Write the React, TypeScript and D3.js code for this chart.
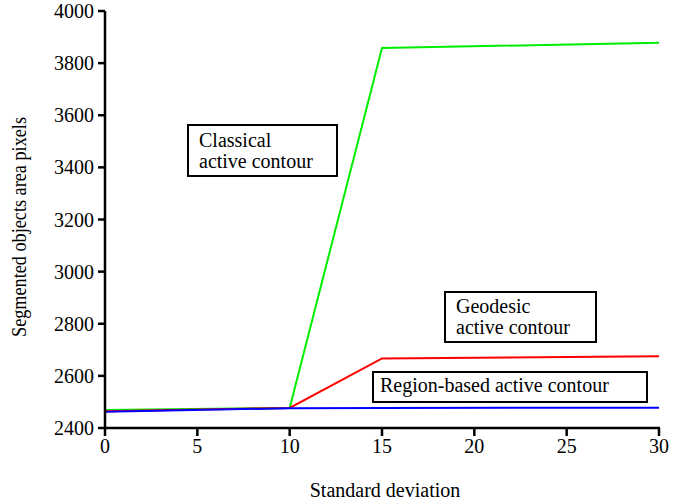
import React from "react";
import * as d3 from "d3";

const xValues = [0, 10, 15, 30];
const classical = [2469, 2477, 3858, 3878];
const geodesic = [2464, 2477, 2667, 2675];
const regionBased = [2462, 2476, 2477, 2478];
const xTicks = [0, 5, 10, 15, 20, 25, 30];
const yTicks = [2400, 2600, 2800, 3000, 3200, 3400, 3600, 3800, 4000];

const W = 673, H = 504;
const left = 105, right = 659, top = 11, bottom = 428;

export default function App() {
  const x = d3.scaleLinear().domain([0, 30]).range([left, right]);
  const y = d3.scaleLinear().domain([2400, 4000]).range([bottom, top]);
  const line = d3.line<number>().x((_, i) => x(xValues[i])).y((d) => y(d));
  const series = [
    { v: classical, c: "#00ee00" },
    { v: geodesic, c: "#ff0000" },
    { v: regionBased, c: "#0000ff" },
  ];
  const ff = "Liberation Serif";
  const ts: React.CSSProperties = { fontFamily: ff, fontSize: 20 };
  return (
    <svg width={W} height={H} style={{ position: "absolute", left: 0, top: 0 }}>
      <rect width={W} height={H} fill="#fff" />
      {series.map((s, i) => (
        <path key={i} d={line(s.v) || ""} fill="none" stroke={s.c} strokeWidth={2} />
      ))}
      <line x1={left} x2={left} y1={top} y2={bottom + 1} stroke="#000" strokeWidth={2.5} />
      <line x1={left - 1} x2={right + 1} y1={bottom} y2={bottom} stroke="#000" strokeWidth={2.5} />
      {yTicks.map((t) => (
        <g key={t}>
          <line x1={left - 7} x2={left} y1={y(t)} y2={y(t)} stroke="#000" strokeWidth={2.5} />
          <text x={left - 11} y={y(t)} dy="0.35em" textAnchor="end" style={ts}>{t}</text>
        </g>
      ))}
      {xTicks.map((t) => (
        <g key={t}>
          <line x1={x(t)} x2={x(t)} y1={bottom} y2={bottom + 8} stroke="#000" strokeWidth={2.5} />
          <text x={x(t)} y={bottom + 25} textAnchor="middle" style={ts}>{t}</text>
        </g>
      ))}
      <text x={385} y={497} textAnchor="middle" style={ts}>Standard deviation</text>
      <text transform="translate(26,227) rotate(-90)" textAnchor="middle" style={ts} textLength={220} lengthAdjust="spacingAndGlyphs">Segmented objects area pixels</text>
      <rect x={188} y={125} width={149} height={51} fill="#fff" stroke="#000" strokeWidth={2} />
      <text x={199} y={147} style={ts}>Classical</text>
      <text x={199} y={168} style={ts}>active contour</text>
      <rect x={445} y={292} width={151} height={50} fill="#fff" stroke="#000" strokeWidth={2} />
      <text x={456} y={313} style={ts}>Geodesic</text>
      <text x={456} y={334} style={ts}>active contour</text>
      <rect x={373} y={372} width={274} height={30} fill="#fff" stroke="#000" strokeWidth={2} />
      <text x={380} y={392} style={ts}>Region-based active contour</text>
    </svg>
  );
}
